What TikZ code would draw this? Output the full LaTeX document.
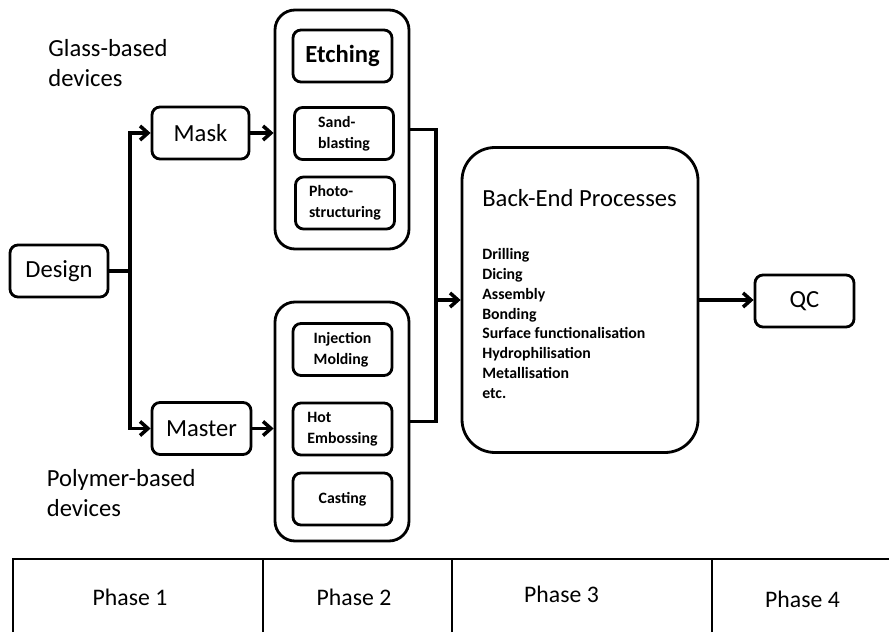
\documentclass[tikz,border=0pt]{standalone}
\usepackage{fontspec}
\setmainfont{Carlito}
\usetikzlibrary{arrows.meta}

\tikzset{
	box/.style={draw, line width=1.6pt, rounded corners=0.16cm, minimum width=1.96cm, minimum height=1.04cm, inner sep=2pt, font=\fontsize{14}{17}\selectfont},
	subbox/.style={box, minimum width=1.98cm, align=left, font=\bfseries\fontsize{9}{12}\selectfont},
	group/.style={draw, line width=1.6pt, rounded corners=0.4cm, minimum width=2.68cm, minimum height=4.78cm},
	wire/.style={line width=2pt},
	flow/.style={wire, -{Straight Barb[length=4.5pt, width=8pt]}},
	caption/.style={anchor=north west, inner sep=0pt, align=left, font=\fontsize{14}{17}\selectfont},
	phase/.style={font=\fontsize{13.5}{16}\selectfont},
}

\begin{document}
\begin{tikzpicture}
	\useasboundingbox (0, 0) rectangle (17.78, 12.64);

	% Design and the two routes:
	\node[box] (design) at (1.18, 7.22){Design};
	\node[box, minimum width=1.94cm] (mask) at (4.01, 9.98){Mask};
	\node[box, minimum width=1.98cm] (master) at (4.03, 4.07){Master};
	\node[caption] (glasslbl) at (0.96, 11.85){Glass-based\\devices};
	\node[caption] (polylbl) at (0.93, 3.25){Polymer-based\\devices};

	% Phase 2 groups:
	\node[group] (glass) at (6.84, 10.05){};
	\node[box, minimum width=1.98cm, font=\bfseries\fontsize{14}{17}\selectfont] (etching) at (6.85, 11.52){Etching};
	\node[subbox] (sand) at (6.88, 9.97){Sand-\\blasting};
	\node[subbox] (photo) at (6.9, 8.58){Photo-\\structuring};
	\node[group] (polymer) at (6.84, 4.21){};
	\node[subbox] (inject) at (6.85, 5.65){Injection\\Molding};
	\node[subbox] (hot) at (6.85, 4.06){Hot\\Embossing};
	\node[subbox] (casting) at (6.85, 2.66){Casting};

	% Back end and QC:
	\node[draw, line width=1.6pt, rounded corners=0.66cm, minimum width=4.72cm, minimum height=6.1cm] (backend) at (11.6, 6.64){};
	\node[anchor=base west, inner sep=0pt, font=\fontsize{14}{17}\selectfont] (betitle) at (9.64, 8.5){Back-End Processes};
	\node[anchor=north west, inner sep=0pt, align=left, font=\bfseries\fontsize{9}{11.3}\selectfont] (belist) at (9.64, 7.68){Drilling\\Dicing\\Assembly\\Bonding\\Surface functionalisation\\Hydrophilisation\\Metallisation\\etc.};
	\node[box, minimum width=1.98cm] (qc) at (16.09, 6.62){QC};

	% Wires:
	\draw[wire] (design.east) -- (2.6, 7.22) coordinate (split);
	\draw[flow] (split) |- (mask.west);
	\draw[flow] (split) |- (master.west);
	\draw[flow] (mask.east) -- (mask.east -| glass.west);
	\draw[flow] (master.east) -- (master.east -| polymer.west);
	\coordinate (merge) at (8.72, 6.64);
	\draw[wire] (glass.east) -| (merge) |- (polymer.east);
	\draw[flow] (merge) -- (backend.west);
	\draw[flow] (backend.east) -- (backend.east -| qc.west);

	% Phase table:
	\draw[line width=1.2pt] (0.26, 0) -- (0.26, 1.46) -- (17.78, 1.46);
	\draw[line width=1.2pt] (5.26, 0) -- (5.26, 1.46);
	\draw[line width=1.4pt] (9.04, 0) -- (9.04, 1.46);
	\draw[line width=1.2pt] (14.24, 0) -- (14.24, 1.46);
	\node[phase] (p1) at (2.6, 0.7){Phase 1};
	\node[phase] (p2) at (7.08, 0.7){Phase 2};
	\node[phase] (p3) at (11.23, 0.76){Phase 3};
	\node[phase] (p4) at (16.05, 0.66){Phase 4};
\end{tikzpicture}
\end{document}
